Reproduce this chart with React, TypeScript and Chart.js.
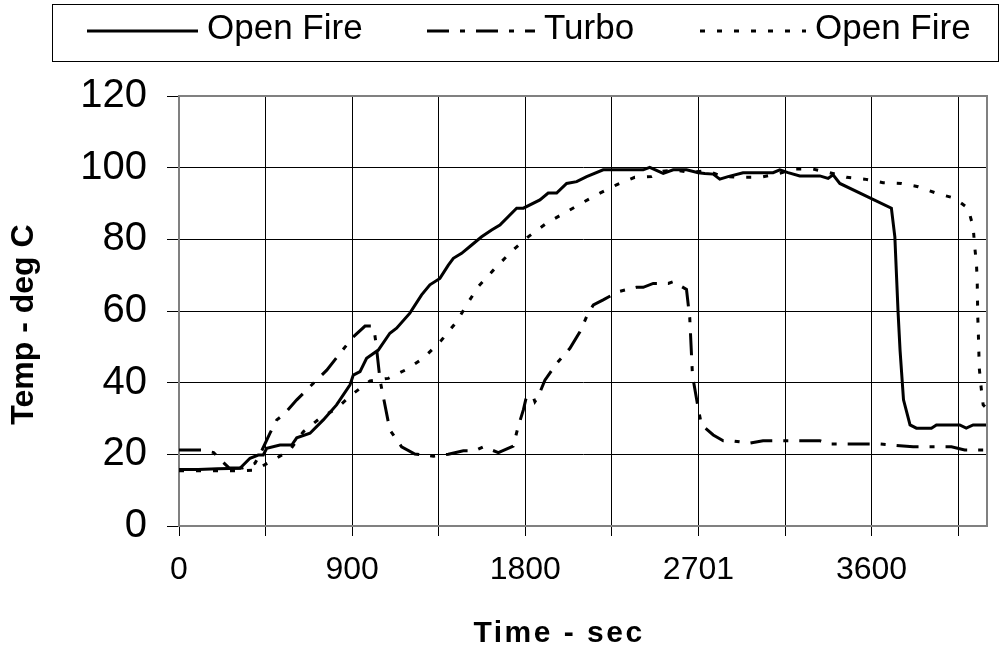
import React, { useEffect, useRef } from 'react';
import { Chart, registerables } from 'chart.js';

Chart.register(...registerables);

const FONT = 'Arial, "Liberation Sans", sans-serif';

const SERIES_LABELS = ['Open Fire', 'Turbo', 'Open Fire'];
const X_TITLE = 'Time - sec';
const Y_TITLE = 'Temp - deg C';
const X_GRID_VALUES = [0, 450, 900, 1350, 1800, 2250, 2700, 3150, 3600, 4050];
const X_TICK_LABELS = ['0', '', '900', '', '1800', '', '2701', '', '3600', ''];

const OPEN_FIRE_A_TIME = [0, 100, 200, 317, 369, 412, 438, 456, 525, 586, 612, 681, 750, 819, 889, 906, 941, 975, 1036, 1096, 1131, 1200, 1261, 1304, 1356, 1400, 1426, 1469, 1512, 1573, 1625, 1668, 1755, 1790, 1876, 1919, 1963, 2015, 2067, 2119, 2205, 2300, 2413, 2447, 2517, 2569, 2638, 2699, 2733, 2777, 2811, 2854, 2932, 3088, 3123, 3166, 3227, 3331, 3374, 3400, 3435, 3703, 3721, 3738, 3748, 3766, 3800, 3833, 3911, 3937, 4058, 4092, 4128, 4195];
const OPEN_FIRE_A_TEMP = [15.8, 15.8, 16, 16.1, 18.9, 19.8, 19.8, 21.7, 22.6, 22.6, 24.6, 25.9, 29.6, 33.8, 39.4, 42.1, 43.1, 46.8, 49.1, 53.8, 55.2, 59.4, 64.5, 67.3, 69.1, 72.8, 74.7, 76.1, 78, 80.7, 82.6, 84, 88.7, 88.7, 91, 92.9, 92.9, 95.6, 96.1, 97.5, 99.4, 99.4, 99.4, 100.1, 98.4, 99.4, 99.4, 98.6, 98.4, 98.2, 96.8, 97.5, 98.6, 98.6, 99.4, 98.6, 97.7, 97.7, 97, 98, 95.6, 88.7, 80.7, 59.4, 49.1, 35.2, 28.2, 27.3, 27.3, 28.2, 28.2, 27.3, 28.2, 28.2];

const TURBO_TIME = [0, 120, 180, 225, 260, 330, 395, 430, 473, 508, 542, 612, 681, 768, 837, 906, 967, 1001, 1013, 1024, 1045, 1096, 1157, 1226, 1322, 1400, 1478, 1538, 1582, 1660, 1737, 1763, 1790, 1806, 1841, 1850, 1867, 1902, 1963, 2032, 2084, 2127, 2154, 2205, 2283, 2378, 2413, 2465, 2543, 2569, 2638, 2655, 2669, 2699, 2716, 2777, 2829, 2872, 2967, 3036, 3331, 3374, 3643, 3816, 4015, 4084, 4195];
const TURBO_TEMP = [21.2, 21.2, 20.5, 18, 16.2, 16.2, 17.5, 21, 25.9, 29.6, 31, 35.2, 38.9, 43.5, 48.2, 52.8, 55.8, 55.8, 55.2, 51, 40.7, 26.8, 22.1, 20.1, 19.5, 20, 21, 21, 22.1, 20.5, 22.3, 27.7, 32.4, 36.1, 36.1, 34.7, 36.1, 40.7, 45.4, 49.6, 54.2, 59.4, 61.7, 63.1, 65.4, 66.6, 66.6, 67.7, 67.7, 68.2, 66, 58, 42, 32.8, 28.2, 25.4, 23.8, 23.8, 23.1, 23.8, 23.8, 22.9, 22.9, 22.1, 22.1, 21.2, 21.2];

const OPEN_FIRE_B_TIME = [0, 308, 395, 490, 577, 646, 733, 819, 897, 993, 1088, 1183, 1270, 1365, 1443, 1495, 1555, 1634, 1728, 1815, 1911, 2015, 2093, 2188, 2274, 2369, 2456, 2517, 2580, 2655, 2742, 2829, 2924, 3019, 3106, 3201, 3296, 3383, 3470, 3564, 3660, 3755, 3842, 3946, 4032, 4101, 4128, 4136, 4145, 4149, 4152, 4155, 4160, 4170, 4180, 4195];
const OPEN_FIRE_B_TEMP = [15.4, 15.4, 15.6, 18.4, 21.2, 26.3, 30.1, 32.8, 36.6, 40.5, 41.2, 43.7, 46.8, 51.9, 57, 61.7, 66.8, 71.4, 76.6, 80.7, 84.5, 87.7, 90.1, 92.9, 95.2, 97.3, 97.5, 99, 99.4, 98.6, 99.2, 97.5, 97.3, 97.3, 98.2, 99.6, 99.6, 98.6, 97.3, 96.8, 95.8, 95.6, 94.7, 92.7, 91.5, 88.7, 83.5, 78, 73.3, 68.7, 58.4, 53.8, 44, 38.4, 33.8, 33];

const toPoints = (xs: number[], ys: number[]) => xs.map((x, i) => ({ x, y: ys[i] }));

const decorPlugin = {
  id: 'excelDecor',
  beforeDatasetsDraw(chart: any) {
    const { ctx, chartArea } = chart;
    ctx.save();
    ctx.strokeStyle = '#808080';
    ctx.lineWidth = 2;
    ctx.setLineDash([]);
    ctx.strokeRect(chartArea.left, chartArea.top, chartArea.right - chartArea.left, chartArea.bottom - chartArea.top);
    ctx.restore();
  },
  afterDraw(chart: any) {
    const ctx = chart.ctx;
    ctx.save();
    // legend frame
    ctx.strokeStyle = '#000';
    ctx.lineWidth = 1;
    ctx.setLineDash([]);
    ctx.strokeRect(52.5, 4.5, 946, 57);
    const starts = [87, 427, 700];
    const sampleW = [111, 108, 106];
    ctx.font = `35px ${FONT}`;
    ctx.textBaseline = 'alphabetic';
    ctx.textAlign = 'left';
    chart.data.datasets.forEach((ds: any, i: number) => {
      const x0 = starts[i];
      const y = 31;
      ctx.beginPath();
      ctx.setLineDash(ds.borderDash || []);
      ctx.lineWidth = ds.borderWidth;
      ctx.strokeStyle = ds.borderColor;
      ctx.lineCap = 'butt';
      ctx.moveTo(x0, y);
      ctx.lineTo(x0 + sampleW[i], y);
      ctx.stroke();
      ctx.setLineDash([]);
      ctx.fillStyle = '#000';
      ctx.fillText(ds.label, x0 + sampleW[i] + 9, 39);
    });
    // axis titles
    ctx.fillStyle = '#000';
    ctx.font = `bold 30px ${FONT}`;
    (ctx as any).letterSpacing = '2.5px';
    ctx.textAlign = 'center';
    ctx.fillText(X_TITLE, 559, 642);
    (ctx as any).letterSpacing = '0px';
    ctx.save();
    ctx.translate(33, 324.5);
    ctx.rotate(-Math.PI / 2);
    ctx.font = `bold 32px ${FONT}`;
    ctx.textAlign = 'center';
    ctx.textBaseline = 'alphabetic';
    ctx.fillText(Y_TITLE, 0, 0);
    ctx.restore();
    ctx.restore();
  },
};

export default function App() {
  const canvasRef = useRef<HTMLCanvasElement | null>(null);

  useEffect(() => {
    const canvas = canvasRef.current;
    if (!canvas) return;
    const chart = new Chart(canvas, {
      type: 'line',
      data: {
        datasets: [
          {
            label: SERIES_LABELS[0],
            data: toPoints(OPEN_FIRE_A_TIME, OPEN_FIRE_A_TEMP),
            borderColor: '#000',
            borderWidth: 3,
            borderDash: [],
            pointRadius: 0,
            tension: 0,
            fill: false,
          },
          {
            label: SERIES_LABELS[1],
            data: toPoints(TURBO_TIME, TURBO_TEMP),
            borderColor: '#000',
            borderWidth: 3,
            borderDash: [22, 11, 5, 11],
            pointRadius: 0,
            tension: 0,
            fill: false,
          },
          {
            label: SERIES_LABELS[2],
            data: toPoints(OPEN_FIRE_B_TIME, OPEN_FIRE_B_TEMP),
            borderColor: '#000',
            borderWidth: 3,
            borderDash: [5, 12],
            pointRadius: 0,
            tension: 0,
            fill: false,
          },
        ],
      },
      options: {
        animation: false,
        responsive: false,
        maintainAspectRatio: false,
        layout: { padding: { top: 96, right: 21, bottom: 0, left: 0 } },
        plugins: {
          legend: { display: false },
          tooltip: { enabled: false },
          title: { display: false },
        },
        scales: {
          x: {
            type: 'linear',
            min: 0,
            max: 4200,
            afterBuildTicks: (scale: any) => {
              scale.ticks = X_GRID_VALUES.map((value) => ({ value }));
            },
            afterFit: (scale: any) => {
              scale.height = 123;
            },
            grid: { color: '#000', lineWidth: 1, tickLength: 10, tickColor: '#000' },
            border: { color: '#808080', width: 2 },
            ticks: {
              autoSkip: false,
              maxRotation: 0,
              minRotation: 0,
              padding: 15,
              color: '#000',
              font: { family: FONT, size: 32 },
              callback: (_value: any, index: number) => X_TICK_LABELS[index] ?? '',
            },
          },
          y: {
            type: 'linear',
            min: 0,
            max: 120,
            afterFit: (scale: any) => {
              scale.width = 179;
            },
            grid: { color: '#000', lineWidth: 1, tickLength: 12, tickColor: '#000' },
            border: { color: '#808080', width: 2 },
            ticks: {
              stepSize: 20,
              padding: 20,
              color: '#000',
              font: { family: FONT, size: 40 },
            },
          },
        },
      },
      plugins: [decorPlugin],
    });
    return () => chart.destroy();
  }, []);

  return (
    <div style={{ position: 'absolute', left: 0, top: 0, width: 1008, height: 649, background: '#fff' }}>
      <canvas ref={canvasRef} width={1008} height={649} style={{ display: 'block', width: 1008, height: 649 }} />
    </div>
  );
}
